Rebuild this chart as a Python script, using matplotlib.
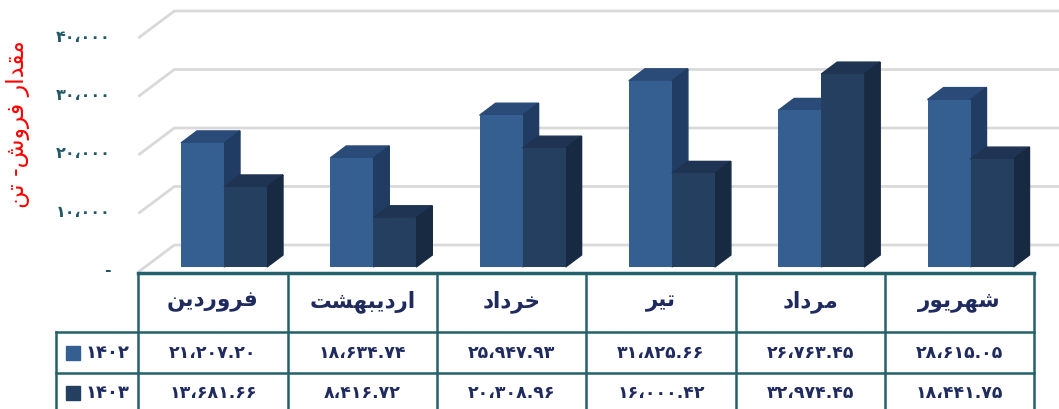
import matplotlib.pyplot as plt
from matplotlib.patches import Polygon
from matplotlib.transforms import blended_transform_factory

months = ["فروردین", "اردیبهشت", "خرداد", "تیر", "مرداد", "شهریور"]
years = ["1402", "1403"]
sales_1402 = [21207.20, 18634.74, 25947.93, 31825.66, 26763.45, 28615.05]
sales_1403 = [13681.66, 8416.72, 20308.96, 16000.42, 32974.45, 18441.75]
y_ticks = [0, 10000, 20000, 30000, 40000]
y_label = "مقدار فروش- تن"

FRONT = ["#365F91", "#243F60"]
TOP = ["#2A4B78", "#1E3452"]
SIDE = ["#213C62", "#182A42"]
GRID = "#D9D9D9"
LINE = "#24616B"
TEXT = "#1F2A5E"
TICK = "#215868"

# arabic presentation forms: isolated, final, (initial, medial)
FORMS = {
    "\u0627": ("\uFE8D", "\uFE8E"),
    "\u0628": ("\uFE8F", "\uFE90", "\uFE91", "\uFE92"),
    "\u062A": ("\uFE95", "\uFE96", "\uFE97", "\uFE98"),
    "\u062E": ("\uFEA5", "\uFEA6", "\uFEA7", "\uFEA8"),
    "\u062F": ("\uFEA9", "\uFEAA"),
    "\u0631": ("\uFEAD", "\uFEAE"),
    "\u0634": ("\uFEB5", "\uFEB6", "\uFEB7", "\uFEB8"),
    "\u0641": ("\uFED1", "\uFED2", "\uFED3", "\uFED4"),
    "\u0642": ("\uFED5", "\uFED6", "\uFED7", "\uFED8"),
    "\u0645": ("\uFEE1", "\uFEE2", "\uFEE3", "\uFEE4"),
    "\u0646": ("\uFEE5", "\uFEE6", "\uFEE7", "\uFEE8"),
    "\u0647": ("\uFEE9", "\uFEEA", "\uFEEB", "\uFEEC"),
    "\u0648": ("\uFEED", "\uFEEE"),
    "\u06CC": ("\uFBFC", "\uFBFD", "\uFEF3", "\uFEF4"),
}


def shape(text):
    out = []
    for i, ch in enumerate(text):
        if ch not in FORMS:
            out.append(ch)
            continue
        f = FORMS[ch]
        prev = text[i - 1] if i > 0 else ""
        nxt = text[i + 1] if i + 1 < len(text) else ""
        join_prev = prev in FORMS and len(FORMS[prev]) == 4
        join_next = len(f) == 4 and nxt in FORMS
        if join_prev and join_next:
            out.append(f[3])
        elif join_next:
            out.append(f[2])
        elif join_prev:
            out.append(f[1])
        else:
            out.append(f[0])
    return "".join(reversed(out))


def fa(s):
    return s.translate(str.maketrans("0123456789,", "۰۱۲۳۴۵۶۷۸۹،"))


W, H = 1059, 409
PX_CAT = 149.3        # pixels per category
PX_VAL = 5.85 / 1000  # pixels per ton
X0, BASE = 213, 267   # pixel of first category centre / bar base


def dx(px):
    return px / PX_CAT


def dy(px):
    return px / PX_VAL


def fy(px):
    return 1 - px / H


plt.rcParams["font.family"] = ["DejaVu Sans"]
fig = plt.figure(figsize=(W / 100, H / 100), dpi=100)
ax = fig.add_axes([0, 0, 1, 1])
ax.set_xlim(-X0 / PX_CAT, (W - X0) / PX_CAT)
ax.set_ylim(-(H - BASE) / PX_VAL, BASE / PX_VAL)
ax.axis("off")

# back wall grid with the 3d floor diagonals
x_front, x_back = -0.5, -0.5 + dx(36)
for v in y_ticks:
    ax.plot([x_front, x_back, 7], [v + dy(-5), v + dy(22), v + dy(22)],
            color=GRID, lw=2, zorder=1, solid_capstyle="butt")
    label = "-" if v == 0 else fa(f"{v:,}")
    ax.text(dx(111 - X0), v + dy(-4), label, ha="right", va="center",
            fontsize=11.5, fontweight="bold", color=TICK)

ax.text(dx(18 - X0), dy(BASE - 124), shape(y_label), rotation=90,
        ha="center", va="center", fontsize=17, color="red")

# 3d bars
w = dx(43)
shift = dx(11)
ddx, ddy = dx(16), dy(12)
idx = list(range(len(months)))
for k, series in enumerate([sales_1402, sales_1403]):
    pos = [i + shift + (k - 0.5) * w for i in idx]
    bars = ax.bar(pos, series, width=w, color=FRONT[k], zorder=3 + k * 2)
    for b in bars:
        x0, x1, h = b.get_x(), b.get_x() + b.get_width(), b.get_height()
        ax.add_patch(Polygon([(x0, h), (x1, h), (x1 + ddx, h + ddy), (x0 + ddx, h + ddy)],
                             closed=True, color=TOP[k], zorder=2 + k * 2))
        ax.add_patch(Polygon([(x1, 0), (x1, h), (x1 + ddx, h + ddy), (x1 + ddx, ddy)],
                             closed=True, color=SIDE[k], zorder=2 + k * 2))

# data table under the chart
tr = blended_transform_factory(ax.transData, ax.transAxes)
left = dx(56 - X0)
ax.plot([-0.5, len(months) - 0.5], [fy(273)] * 2, color=LINE, lw=2.5, transform=tr, clip_on=False)
for y in [332, 373]:
    ax.plot([left, len(months) - 0.5], [fy(y)] * 2, color=LINE, lw=1.8, transform=tr)
for xb in [c - 0.5 for c in range(len(months) + 1)]:
    ax.plot([xb, xb], [fy(273), fy(414)], color=LINE, lw=1.8, transform=tr, clip_on=False)
ax.plot([left, left], [fy(332), fy(414)], color=LINE, lw=1.8, transform=tr, clip_on=False)

for i, m in enumerate(months):
    ax.text(i, fy(302), shape(m), ha="center", va="center", fontsize=15.5,
            fontweight="bold", color=TEXT, transform=tr)
    for r, series in enumerate([sales_1402, sales_1403]):
        ax.text(i, fy(353 + r * 40), fa(f"{series[i]:,.2f}"), ha="center", va="center",
                fontsize=12.5, fontweight="bold", color=TEXT, transform=tr)

for r, yr in enumerate(years):
    yc = fy(353 + r * 40)
    ax.plot([dx(73 - X0)], [yc], marker="s", ms=10, color=FRONT[r], transform=tr)
    ax.text(dx(107 - X0), yc, fa(yr), ha="center", va="center", fontsize=13,
            fontweight="bold", color=TEXT, transform=tr)

fig.savefig("out.png", dpi=100)
